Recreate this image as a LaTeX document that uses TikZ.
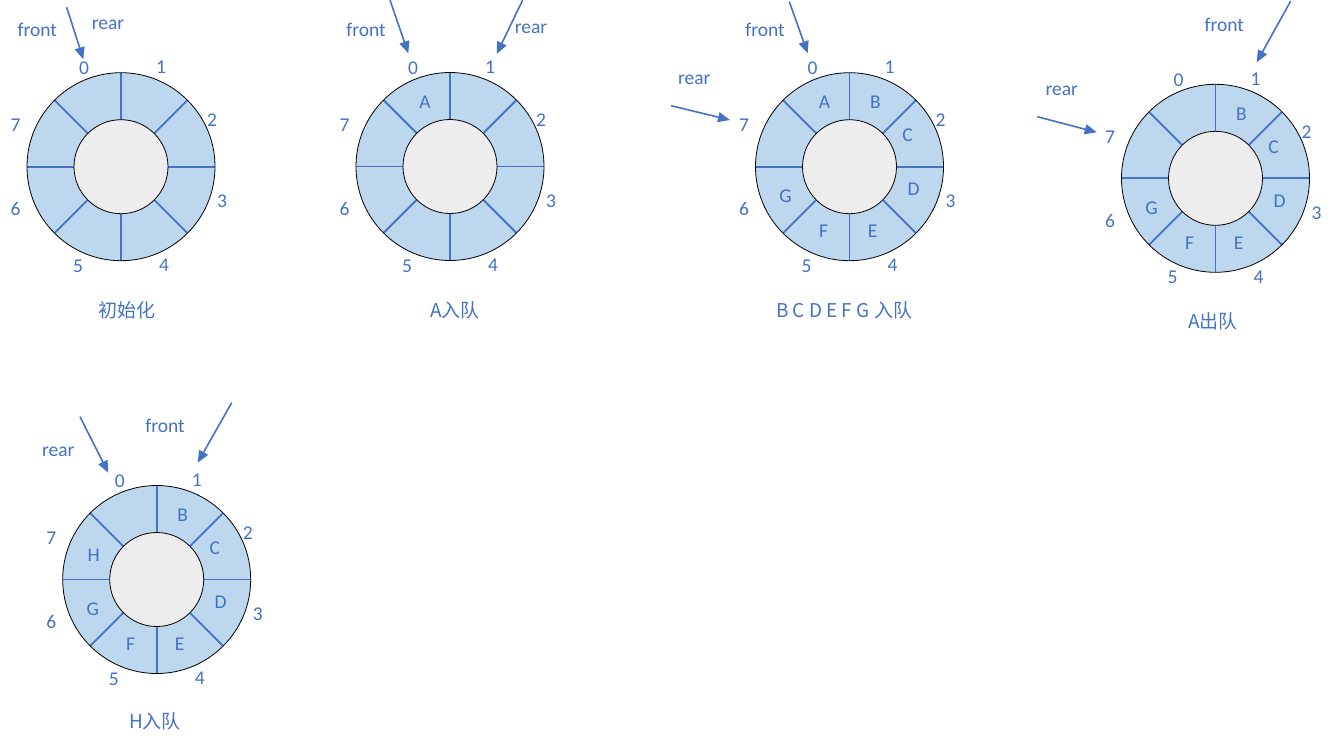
\documentclass[tikz,border=0pt]{standalone}
\usepackage{fontspec}
\setmainfont{Carlito}
\newfontfamily\cjk{Noto Sans CJK SC}
\usetikzlibrary{arrows.meta,calc}
\definecolor{qblue}{HTML}{4472C4}
\definecolor{qfill}{HTML}{BDD7EE}
\definecolor{qgray}{HTML}{EDEDED}
\tikzset{
 lbl/.style={text=qblue, font=\fontsize{19.5}{23}\selectfont, inner sep=0pt},
 captxt/.style={text=qblue, font=\cjk\fontsize{19}{23}\selectfont, inner sep=0pt},
 ptr/.style={draw=qblue, line width=1.6pt, -{Triangle[length=12pt,width=10pt]}},
 divider/.style={draw=qblue, line width=1.8pt},
 rim/.style={draw=black, line width=0.8pt},
}
\newcommand\qring[3]{%
 \coordinate (#1) at (#2,#3);
 \fill[qfill, even odd rule] (#1) circle[radius=94pt] (#1) circle[radius=47pt];
 \foreach \a in {0,45,...,315} \draw[divider] ($(#1)+(\a:47pt)$) -- ($(#1)+(\a:94pt)$);
 \draw[rim] (#1) circle[radius=94pt];
 \draw[rim, fill=qgray] (#1) circle[radius=47pt];
 \node[lbl] (#1-n0) at ($(#1)+(-37,-98.5)$) {0};
 \node[lbl] (#1-n1) at ($(#1)+(40,-99.5)$) {1};
 \node[lbl] (#1-n2) at ($(#1)+(91,-46.5)$) {2};
 \node[lbl] (#1-n3) at ($(#1)+(101,35)$) {3};
 \node[lbl] (#1-n4) at ($(#1)+(43,98.5)$) {4};
 \node[lbl] (#1-n5) at ($(#1)+(-43,99.5)$) {5};
 \node[lbl] (#1-n6) at ($(#1)+(-105.5,42.5)$) {6};
 \node[lbl] (#1-n7) at ($(#1)+(-105.5,-41.5)$) {7};
 \coordinate (#1-s0) at ($(#1)+(-25,-64)$);
 \coordinate (#1-s1) at ($(#1)+(26,-64)$);
 \coordinate (#1-s2) at ($(#1)+(58,-31)$);
 \coordinate (#1-s3) at ($(#1)+(64,23)$);
 \coordinate (#1-s4) at ($(#1)+(23,65)$);
 \coordinate (#1-s5) at ($(#1)+(-26,65)$);
 \coordinate (#1-s6) at ($(#1)+(-64,30)$);
 \coordinate (#1-s7) at ($(#1)+(-63,-24)$);
}
\begin{document}
\begin{tikzpicture}[x=1pt,y=-1pt]
\useasboundingbox (0,0) rectangle (1333,745);
% ring 1
\qring{r1}{121}{166.7}
\node[lbl] (r1-front) at (37.3,30) {front};
\node[lbl] (r1-rear) at (108,25) {rear};
\coordinate (r1-fs) at (66.7,7.3);
\coordinate (r1-ft) at (83.3,59.3);
\draw[ptr] (r1-fs) -- (r1-ft);
\node[captxt] (r1-cap) at (127,310) {初始化};
% ring 2
\qring{r2}{450}{166.5}
\node[lbl] at (r2-s0) {A};
\node[lbl] (r2-front) at (366,30) {front};
\node[lbl] (r2-rear) at (531,29) {rear};
\coordinate (r2-fs) at (390,0);
\coordinate (r2-ft) at (408.3,53.3);
\coordinate (r2-rs) at (522.7,0);
\coordinate (r2-rt) at (496.7,54);
\draw[ptr] (r2-fs) -- (r2-ft);
\draw[ptr] (r2-rs) -- (r2-rt);
\node[captxt] (r2-cap) at (455,310) {A入队};
% ring 3
\qring{r3}{849.5}{166.7}
\node[lbl] at (r3-s0) {A};
\node[lbl] at (r3-s1) {B};
\node[lbl] at (r3-s2) {C};
\node[lbl] at (r3-s3) {D};
\node[lbl] at (r3-s4) {E};
\node[lbl] at (r3-s5) {F};
\node[lbl] at (r3-s6) {G};
\node[lbl] (r3-front) at (765,30) {front};
\node[lbl] (r3-rear) at (694.3,80) {rear};
\coordinate (r3-fs) at (789.3,1.7);
\coordinate (r3-ft) at (807.7,53.3);
\coordinate (r3-rs) at (671,105.7);
\coordinate (r3-rt) at (730,120);
\draw[ptr] (r3-fs) -- (r3-ft);
\draw[ptr] (r3-rs) -- (r3-rt);
\node[captxt] (r3-cap) at (844,310) {B C D E F G 入队};
% ring 4
\qring{r4}{1215.5}{178.3}
\node[lbl] at (r4-s1) {B};
\node[lbl] at (r4-s2) {C};
\node[lbl] at (r4-s3) {D};
\node[lbl] at (r4-s4) {E};
\node[lbl] at (r4-s5) {F};
\node[lbl] at (r4-s6) {G};
\node[lbl] (r4-front) at (1224.3,25) {front};
\node[lbl] (r4-rear) at (1061.7,90.7) {rear};
\coordinate (r4-fs) at (1290.7,1);
\coordinate (r4-ft) at (1256.7,62.3);
\coordinate (r4-rs) at (1037.3,116.7);
\coordinate (r4-rt) at (1096.7,132.3);
\draw[ptr] (r4-fs) -- (r4-ft);
\draw[ptr] (r4-rs) -- (r4-rt);
\node[captxt] (r4-cap) at (1213,321.7) {A出队};
% ring 5
\qring{r5}{156.7}{579.5}
\node[lbl] at (r5-s1) {B};
\node[lbl] at (r5-s2) {C};
\node[lbl] at (r5-s3) {D};
\node[lbl] at (r5-s4) {E};
\node[lbl] at (r5-s5) {F};
\node[lbl] at (r5-s6) {G};
\node[lbl] at (r5-s7) {H};
\node[lbl] (r5-front) at (165,425.7) {front};
\node[lbl] (r5-rear) at (58.3,451.7) {rear};
\coordinate (r5-fs) at (231.7,402.7);
\coordinate (r5-ft) at (197.7,462.7);
\coordinate (r5-rs) at (80,416.7);
\coordinate (r5-rt) at (108.3,472.7);
\draw[ptr] (r5-fs) -- (r5-ft);
\draw[ptr] (r5-rs) -- (r5-rt);
\node[captxt] (r5-cap) at (155,721.7) {H入队};
\end{tikzpicture}
\end{document}
